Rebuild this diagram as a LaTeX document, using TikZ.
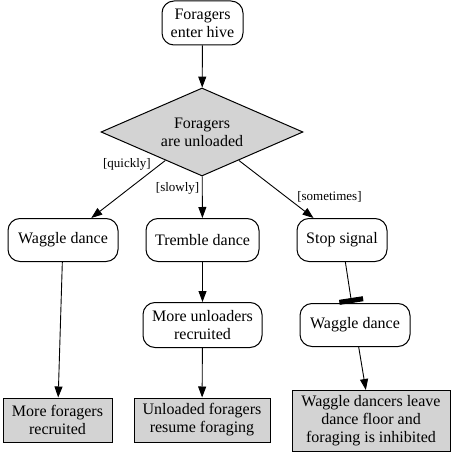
\documentclass[tikz,border=0pt]{standalone}
\usepackage{fontspec}
\setmainfont{Liberation Serif}
\usetikzlibrary{shapes.geometric,arrows.meta}
\definecolor{boxgray}{RGB}{211,211,211}

\begin{document}
\begin{tikzpicture}[x=1pt, y=-1pt,
   every node/.style={font=\fontsize{16}{18}\selectfont, align=center, inner sep=2pt},
   act/.style={draw, rounded corners=12pt, line width=1pt, minimum height=43pt},
   result/.style={draw, fill=boxgray, line width=1pt},
   choice/.style={draw, diamond, fill=boxgray, aspect=2.3, inner sep=0pt, line width=1pt,
                  minimum width=202pt, minimum height=88pt},
   lbl/.style={font=\fontsize{13}{15}\selectfont, inner sep=0pt},
   go/.style={-{Triangle[length=11pt,width=8pt]}, line width=0.9pt},
   block/.style={-{Rectangle[length=5pt,width=24pt]}, line width=0.9pt}]
   \useasboundingbox (0,0) rectangle (454,454);

   \node[act, minimum width=81pt, minimum height=44pt] (enter) at (202.5, 23) {Foragers\\enter hive};
   \node[choice] (unload) at (202, 132) {Foragers\\are unloaded};

   \node[act, minimum width=110pt] (waggle) at (63, 240) {Waggle dance};
   \node[act, minimum width=113pt] (tremble) at (202.5, 240) {Tremble dance};
   \node[act, minimum width=90pt] (stopsig) at (342, 240) {Stop signal};

   \node[act, minimum width=119pt, minimum height=45pt] (unloaders) at (202.5, 325) {More unloaders\\recruited};
   \node[act, minimum width=110pt] (waggletwo) at (355, 325) {Waggle dance};

   \node[result, minimum width=109pt, minimum height=44pt] (recruit) at (57.5, 420) {More foragers\\recruited};
   \node[result, minimum width=136pt, minimum height=44pt] (resume) at (202, 420) {Unloaded foragers\\resume foraging};
   \node[result, minimum width=158pt, minimum height=61pt] (inhibit) at (371, 421) {Waggle dancers leave\\dance floor and\\foraging is inhibited};

   \draw[go] (enter) -- (unload);
   \draw[go] (unload) -- node[lbl, pos=0.07, left=9pt] {[quickly]} (waggle);
   \draw[go] (unload) -- node[lbl, pos=0.28, left=2.5pt] {[slowly]} (tremble);
   \draw[go] (unload) -- node[lbl, pos=0.63, right=11pt] {[sometimes]} (stopsig);

   \draw[go] (waggle) -- (recruit);
   \draw[go] (tremble) -- (unloaders);
   \draw[go] (unloaders) -- (resume);
   \draw[block] (stopsig) -- (waggletwo);
   \draw[go] (waggletwo) -- (inhibit);
\end{tikzpicture}
\end{document}
